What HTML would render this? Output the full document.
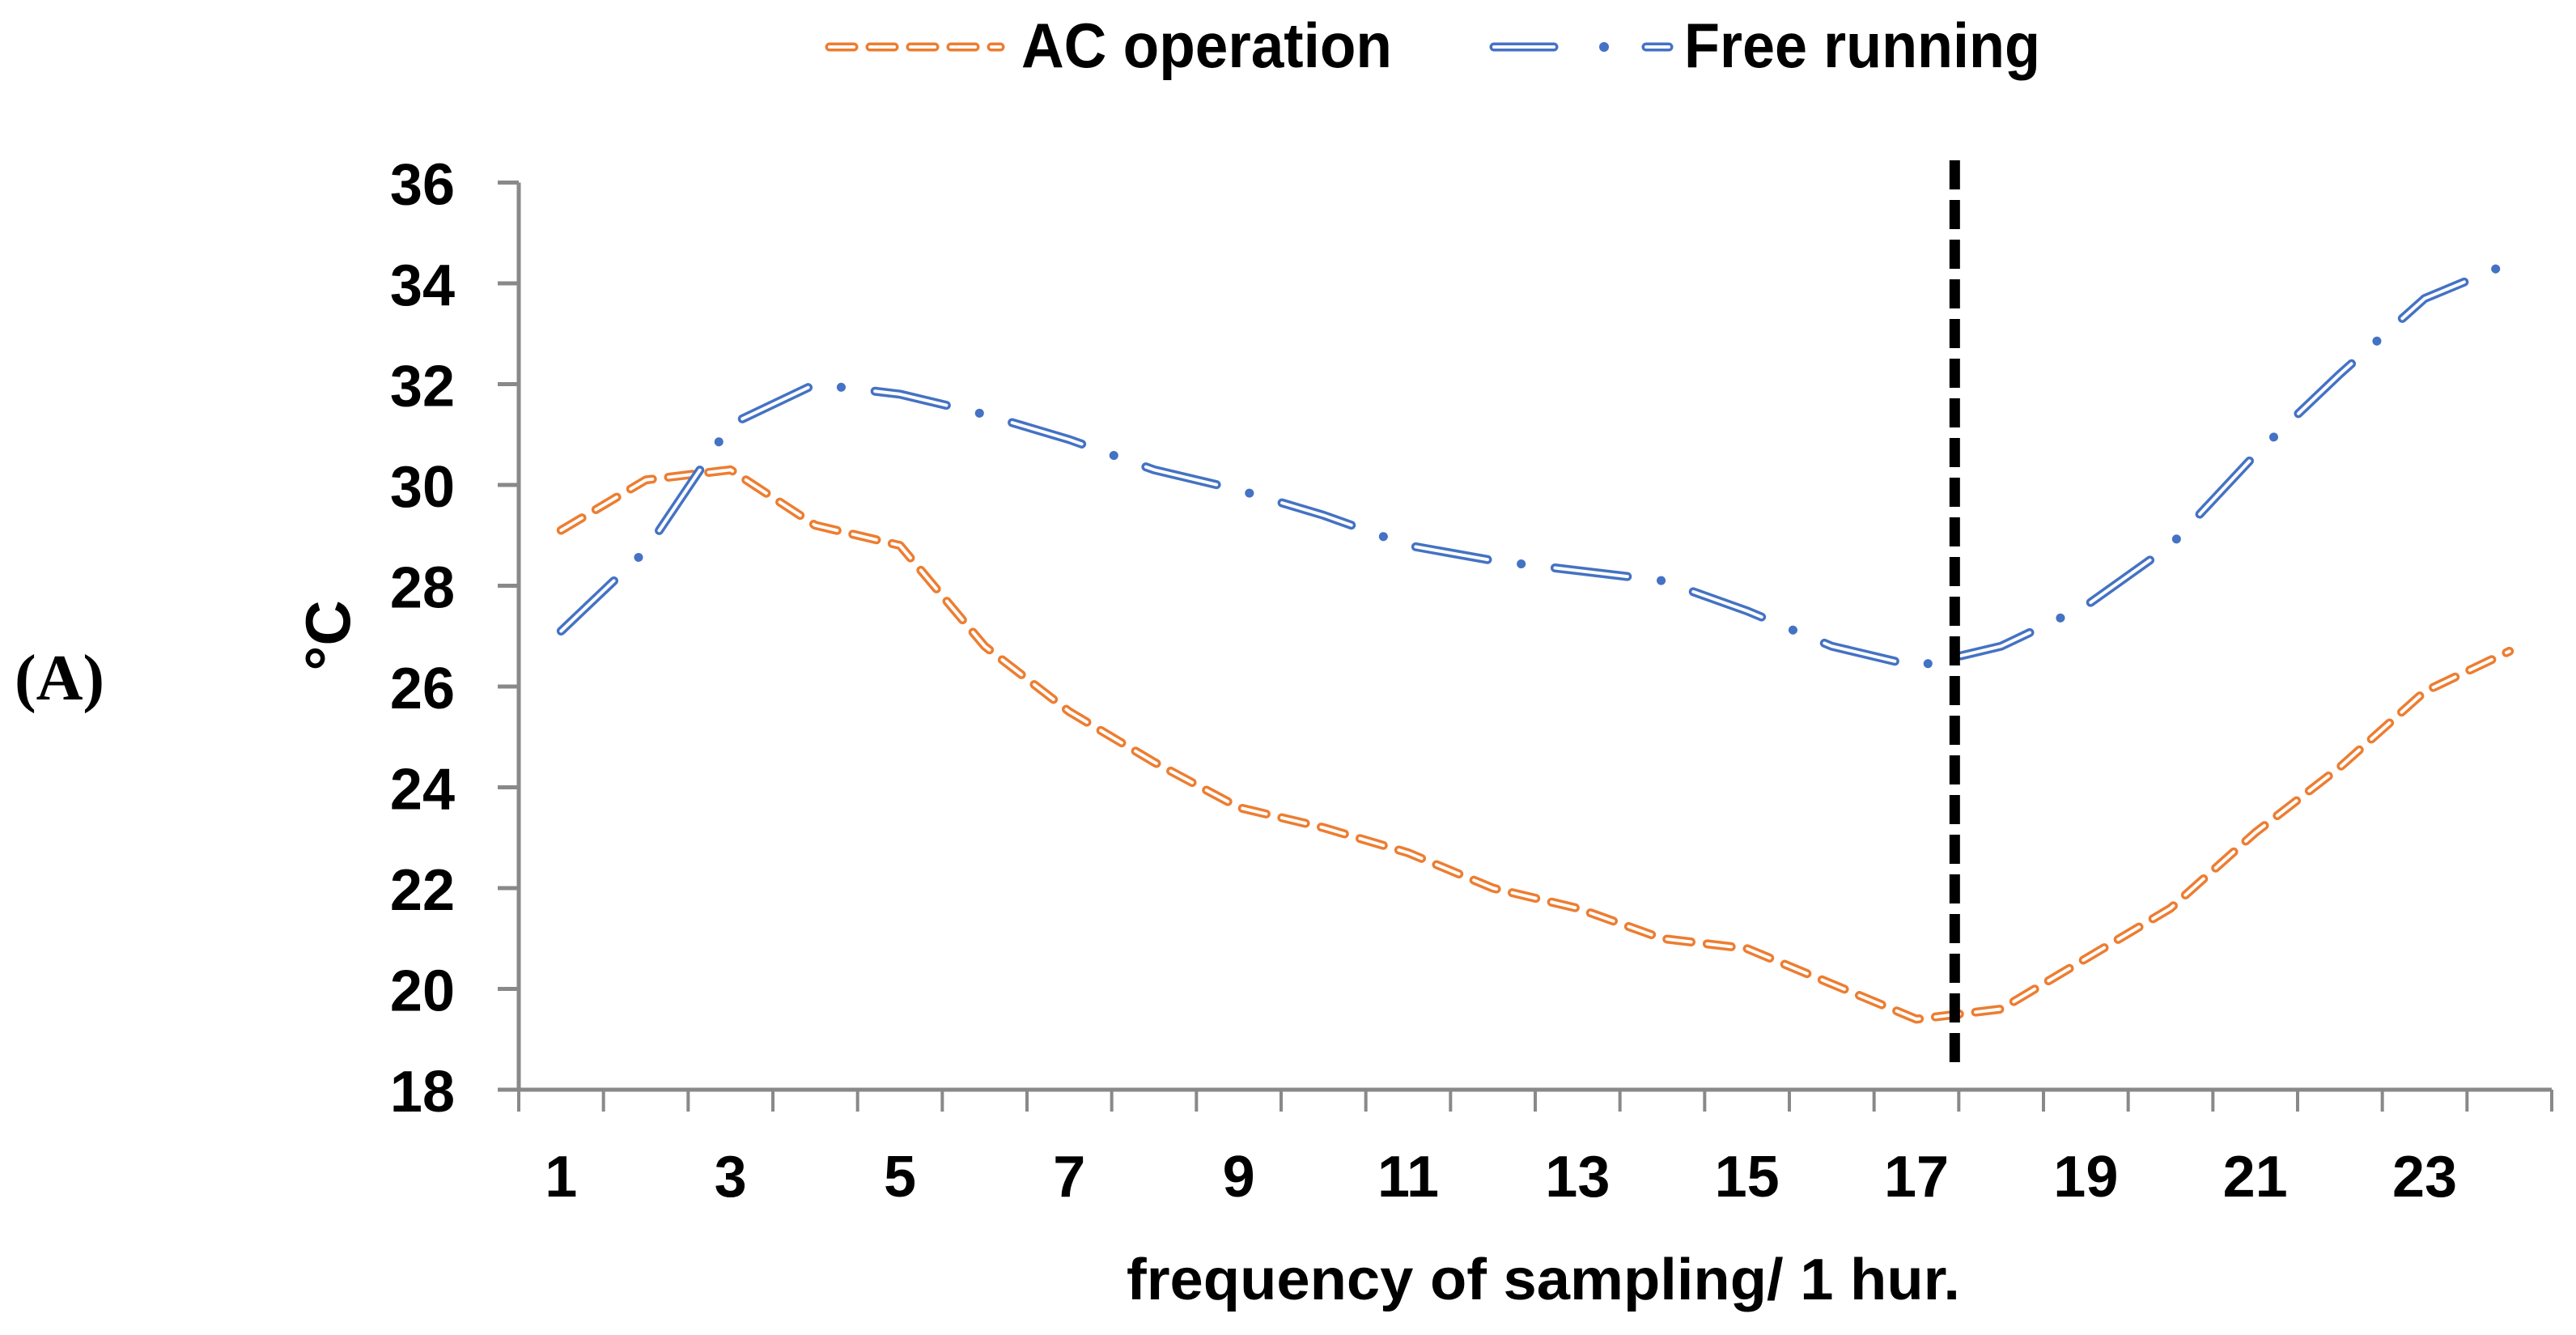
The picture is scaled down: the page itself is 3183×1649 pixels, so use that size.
<!DOCTYPE html>
<html><head><meta charset="utf-8"><style>
html,body{margin:0;padding:0;background:#fff;}
svg{display:block;}
text{font-family:"Liberation Sans",sans-serif;font-weight:bold;fill:#000;}
</style></head><body>
<svg id="chart" width="3183" height="1649" viewBox="0 0 3183 1649" xmlns="http://www.w3.org/2000/svg">
<g id="legend">
  <g>
    <line x1="1025" y1="58" x2="1236" y2="58" stroke="#ED7D31" stroke-width="11" stroke-dasharray="30 20" stroke-linecap="round"/>
    <line x1="1025" y1="58" x2="1236" y2="58" stroke="#fff" stroke-width="4" stroke-dasharray="30 20" stroke-linecap="round"/>
    <text x="1262" y="83" font-size="78" textLength="458" lengthAdjust="spacingAndGlyphs">AC operation</text>
  </g>
  <g>
    <line x1="1846" y1="58" x2="1920" y2="58" stroke="#4472C4" stroke-width="11" stroke-linecap="round"/>
    <line x1="1846" y1="58" x2="1920" y2="58" stroke="#fff" stroke-width="4" stroke-linecap="round"/>
    <circle cx="1982" cy="58" r="6" fill="#4472C4"/>
    <line x1="2034" y1="58" x2="2062" y2="58" stroke="#4472C4" stroke-width="11" stroke-linecap="round"/>
    <line x1="2034" y1="58" x2="2062" y2="58" stroke="#fff" stroke-width="4" stroke-linecap="round"/>
    <text x="2081" y="83" font-size="78" textLength="440" lengthAdjust="spacingAndGlyphs">Free running</text>
  </g>
</g>
<text x="18" y="864" font-size="80" style="font-family:'Liberation Serif',serif">(A)</text>
<text transform="translate(432,785) rotate(-90)" text-anchor="middle" font-size="78">°C</text>
<text x="1907" y="1605" text-anchor="middle" font-size="72" textLength="1030" lengthAdjust="spacingAndGlyphs">frequency of sampling/ 1 hur.</text>
<g id="axes"></g>
<g id="series"></g>
</svg>
<script>
const categories = [1,2,3,4,5,6,7,8,9,10,11,12,13,14,15,16,17,18,19,20,21,22,23,24];
const acOperation = [29.1,30.1,30.3,29.2,28.8,26.8,25.5,24.5,23.6,23.2,22.7,22.0,21.6,21.0,20.8,20.1,19.4,19.6,20.6,21.6,23.1,24.4,25.9,26.7];
const freeRunning = [27.1,28.7,31.2,32.0,31.8,31.4,30.9,30.3,29.9,29.4,28.8,28.5,28.3,28.1,27.5,26.8,26.4,26.8,27.6,28.8,30.6,32.2,33.7,34.4];
const yTicks = [18,20,22,24,26,28,30,32,34,36];
const xTickLabels = [1,3,5,7,9,11,13,15,17,19,21,23];
const markerPosition = [17.5];

const NS = "http://www.w3.org/2000/svg";
const X0 = 641, X1 = 3153, Y0 = 1346, Y1 = 225.5, YMIN = 18, YMAX = 36;
const step = (X1 - X0) / categories.length;
function xPos(c){ return X0 + step * (c - 0.5); }
function yPos(v){ return Y0 - (v - YMIN) / (YMAX - YMIN) * (Y0 - Y1); }
function mk(tag, attrs, parent){
  const e = document.createElementNS(NS, tag);
  for (const k in attrs) e.setAttribute(k, attrs[k]);
  parent.appendChild(e); return e;
}
const axes = document.getElementById('axes');
const series = document.getElementById('series');

// y axis
let ya = mk('line', {x1:X0, y1:Y1, x2:X0, y2:Y0, stroke:'#898989', 'stroke-width':5}, axes);


yTicks.forEach(v => {
  const y = yPos(v);
  const t = mk('line', {x1:615, y1:y, x2:X0, y2:y, stroke:'#898989', 'stroke-width':5}, axes);
  
  
  const l = mk('text', {x:562, y:y+27, 'text-anchor':'end', 'font-size':72}, axes);
  l.textContent = v;
  
  
});
// x axis
let xa = mk('line', {x1:615, y1:Y0, x2:X1, y2:Y0, stroke:'#898989', 'stroke-width':5}, axes);


for (let i = 0; i <= categories.length; i++) {
  const x = X0 + step * i;
  const t = mk('line', {x1:x, y1:Y0, x2:x, y2:1373, stroke:'#898989', 'stroke-width':4}, axes);
  
  
}
xTickLabels.forEach(c => {
  const l = mk('text', {x:xPos(c), y:1478, 'text-anchor':'middle', 'font-size':72}, axes);
  l.textContent = c;
  
  
});

function pathD(vals){ return vals.map((v,i) => (i? 'L':'M') + xPos(categories[i]).toFixed(1) + ' ' + yPos(v).toFixed(1)).join(' '); }

// AC operation
const acD = pathD(acOperation);
let a1 = mk('path', {d:acD, fill:'none', stroke:'#ED7D31', 'stroke-width':11, 'stroke-dasharray':'30 20', 'stroke-linecap':'round', 'stroke-linejoin':'round'}, series);


let a2 = mk('path', {d:acD, fill:'none', stroke:'#fff', 'stroke-width':4, 'stroke-dasharray':'30 20', 'stroke-linecap':'round', 'stroke-linejoin':'round'}, series);



// Free running (dash-dot)
const frD = pathD(freeRunning);
let f1 = mk('path', {d:frD, fill:'none', stroke:'#4472C4', 'stroke-width':11, 'stroke-dasharray':'90 42 0.1 42', 'stroke-linecap':'round', 'stroke-linejoin':'round'}, series);


let f2 = mk('path', {d:frD, fill:'none', stroke:'#fff', 'stroke-width':4, 'stroke-dasharray':'90 84.1', 'stroke-linecap':'round', 'stroke-linejoin':'round'}, series);



// vertical marker
markerPosition.forEach(c => {
  const x = xPos(c) - 5;
  const m = mk('line', {x1:x, y1:198, x2:x, y2:1314, stroke:'#000', 'stroke-width':13, 'stroke-dasharray':'36 13'}, series);
  
  
});
</script>
</body></html>
